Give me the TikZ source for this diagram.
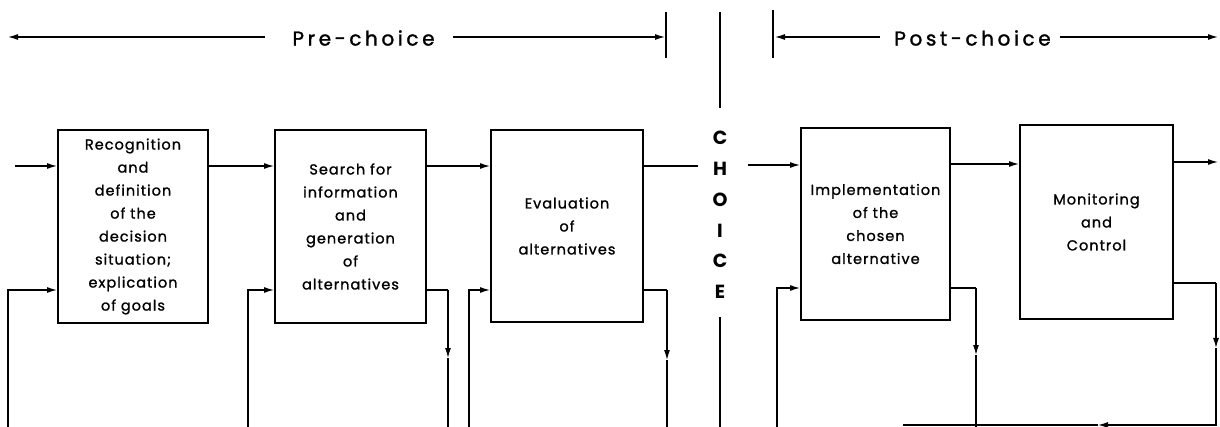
\documentclass[tikz,border=0pt]{standalone}
\usepackage{fontspec}
\setmainfont{Poppins}
\newfontfamily\boxfont{Poppins}[LetterSpace=7,FakeBold=1.2]
\newfontfamily\topfont{Poppins}[LetterSpace=18,FakeBold=1.5]
\usetikzlibrary{arrows.meta}
\begin{document}
\begin{tikzpicture}[x=1pt,y=-1pt,
  proc/.style={draw, line width=2pt, inner sep=0pt, align=center,
    font=\boxfont\fontsize{14.5}{23}\selectfont},
  conn/.style={line width=1.2pt},
  arr/.style={conn,-{Latex[length=10pt,width=6pt]}},
  toplabel/.style={inner sep=0pt, font=\topfont\fontsize{20}{24}\selectfont},
  choiceletter/.style={inner sep=0pt, font=\bfseries\fontsize{19}{20}\selectfont},
]
\useasboundingbox (0,0) rectangle (1220,427);

% boxes
\node[proc, minimum width=150pt, minimum height=193pt] (b1) at (133,226.5)
  {Recognition\\and\\definition\\of the\\decision\\situation;\\explication\\of goals};
\node[proc, minimum width=151pt, minimum height=193pt] (b2) at (350.5,226.5)
  {Search for\\information\\and\\generation\\of\\alternatives};
\node[proc, minimum width=152pt, minimum height=192pt] (b3) at (567,226)
  {Evaluation\\of\\alternatives};
\node[proc, minimum width=149pt, minimum height=192pt] (b4) at (875.5,224)
  {Implementation\\of the\\chosen\\alternative};
\node[proc, minimum width=153pt, minimum height=194pt] (b5) at (1096.5,222)
  {Monitoring\\and\\Control};

% top labels
\node[toplabel] (pre) at (363.5,38) {Pre-choice};
\node[toplabel] (post) at (972.5,38) {Post-choice};
\coordinate (preL0) at (265,37);
\coordinate (preL1) at (8,37);
\coordinate (preR0) at (453,37);
\coordinate (preR1) at (665,37);
\coordinate (postL0) at (880,37);
\coordinate (postL1) at (775,37);
\coordinate (postR0) at (1060,37);
\coordinate (postR1) at (1218,37);
\draw[arr] (preL0) -- (preL1);
\draw[arr] (preR0) -- (preR1);
\draw[arr] (postL0) -- (postL1);
\draw[arr] (postR0) -- (postR1);
\coordinate (tk1a) at (666,12);
\coordinate (tk1b) at (666,58);
\coordinate (tk2a) at (773,10);
\coordinate (tk2b) at (773,58);
\draw[conn] (tk1a) -- (tk1b);
\draw[conn] (tk2a) -- (tk2b);

% CHOICE
\foreach \l [count=\i] in {C,H,O,I,C,E}
  \node[choiceletter] (ch\i) at (720,{107.2+30.8*\i}) {\l};
\coordinate (cl1) at (720,12);
\coordinate (cl2) at (720,108);
\coordinate (cl3) at (720,317);
\coordinate (cl4) at (720,427);
\draw[conn] (cl1) -- (cl2);
\draw[conn] (cl3) -- (cl4);

% forward connectors
\coordinate (in1) at (15,166);
\draw[arr] (in1) -- (in1 -| b1.west);
\draw[arr] (b1.east |- in1) -- (b2.west |- in1);
\draw[arr] (b2.east |- in1) -- (b3.west |- in1);
\coordinate (c3) at (698,166);
\draw[conn] (b3.east |- c3) -- (c3);
\coordinate (c4) at (748,165);
\draw[arr] (c4) -- (c4 -| b4.west);
\coordinate (r2) at (0,164);
\draw[arr] (b4.east |- r2) -- (b5.west |- r2);
\coordinate (out5) at (1218,162);
\draw[arr] (b5.east |- out5) -- (out5);

% feedback inputs
\coordinate (fy) at (0,290);
\coordinate (fy4) at (0,288);
\coordinate (f1) at (8,427);
\coordinate (f2) at (248,427);
\coordinate (f3) at (469,427);
\coordinate (f4) at (777,427);
\draw[arr] (f1) |- (b1.west |- fy);
\draw[arr] (f2) |- (b2.west |- fy);
\draw[arr] (f3) |- (b3.west |- fy);
\draw[arr] (f4) |- (b4.west |- fy4);

% feedback outputs
\coordinate (d2a) at (448,290);
\coordinate (d2b) at (448,358);
\coordinate (d2c) at (448,427);
\draw[conn] (b2.east |- d2a) -- (d2a);
\draw[arr] (d2a) -- (d2b);
\draw[conn] (d2b) -- (d2c);
\coordinate (d3a) at (667,290);
\coordinate (d3b) at (667,360);
\coordinate (d3c) at (667,427);
\draw[conn] (b3.east |- d3a) -- (d3a);
\draw[arr] (d3a) -- (d3b);
\draw[conn] (d3b) -- (d3c);
\coordinate (d4a) at (976,288);
\coordinate (d4b) at (976,355);
\coordinate (d4c) at (976,427);
\draw[conn] (b4.east |- d4a) -- (d4a);
\draw[arr] (d4a) -- (d4b);
\draw[conn] (d4b) -- (d4c);
\coordinate (d5a) at (1216,283);
\coordinate (d5b) at (1216,348);
\coordinate (d5c) at (1216,425);
\coordinate (d5d) at (1098,425);
\coordinate (d5e) at (903,425);
\draw[conn] (b5.east |- d5a) -- (d5a);
\draw[arr] (d5a) -- (d5b);
\draw[arr] (d5b) -- (d5c) -- (d5d);
\draw[conn] (d5d) -- (d5e);
\end{tikzpicture}
\end{document}
